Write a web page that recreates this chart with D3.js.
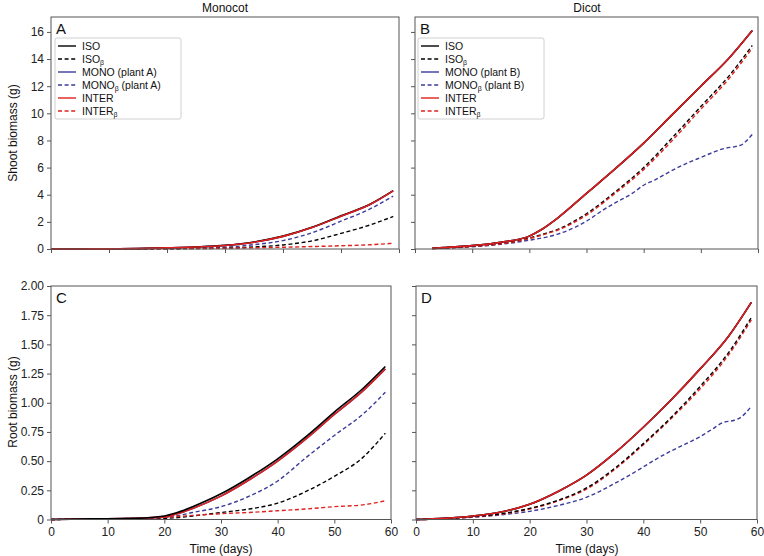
<!DOCTYPE html>
<html><head><meta charset="utf-8">
<script src="https://cdn.jsdelivr.net/npm/d3@7"></script>
<style>
body{margin:0;background:#fff;}
text{font-family:"Liberation Sans", Arial, sans-serif;}
</style></head>
<body><svg id="c" width="764" height="556"></svg>
<script>
// ---------- DATA ----------
const xTicks = [0,10,20,30,40,50,60];
const shootTicks = [0,2,4,6,8,10,12,14,16];
const rootTicks = [0,0.25,0.5,0.75,1,1.25,1.5,1.75,2];

// Panel A: shoot, monocot
const daysA = [0,5,10,15,20,25,30,35,40,45,50,55,59];
const isoA      = [0,0.005,0.01,0.03,0.08,0.15,0.27,0.52,0.95,1.6,2.45,3.3,4.3];
const isoBetaA  = [0,0,0.005,0.01,0.02,0.03,0.06,0.15,0.3,0.6,1.15,1.77,2.4];
const monoA     = [0,0.005,0.01,0.03,0.08,0.15,0.26,0.5,0.93,1.58,2.42,3.28,4.28];
const monoBetaA = [0,0,0.005,0.01,0.03,0.06,0.13,0.32,0.62,1.2,2.05,2.95,3.9];
const interA    = [0,0.005,0.01,0.03,0.08,0.15,0.26,0.5,0.93,1.58,2.42,3.28,4.28];
const interBetaA= [0,0,0.005,0.01,0.02,0.04,0.06,0.09,0.13,0.18,0.24,0.31,0.42];

// Panel B: shoot, dicot
const daysB = [3,5,10,15,20,22,25,30,35,40,45,50,55,59];
const isoB      = [0.05,0.1,0.25,0.5,0.95,1.4,2.3,4.1,5.9,7.8,9.9,12.0,14.1,16.1];
const isoBetaB  = [0.03,0.07,0.2,0.4,0.8,1.05,1.45,2.6,4.2,6.0,8.2,10.5,12.8,15.0];
const monoB     = [0.05,0.1,0.25,0.5,0.95,1.4,2.3,4.1,5.9,7.8,9.9,12.0,14.1,16.1];
const interB    = [0.05,0.1,0.25,0.5,0.95,1.4,2.3,4.1,5.9,7.8,9.9,12.0,14.1,16.1];
const interBetaB= [0.03,0.06,0.19,0.38,0.77,1.0,1.4,2.5,4.1,5.85,8.0,10.3,12.6,14.8];
const daysBFine = [3,5,10,15,20,25,28,30,33,35,38,40,42,45,48,50,52,54,56,57,59];
const monoBetaB = [0.03,0.06,0.17,0.35,0.65,1.1,1.6,2.05,2.9,3.4,4.1,4.7,5.1,5.8,6.4,6.75,7.1,7.4,7.55,7.65,8.45];

// Panel C: root, monocot
const daysC = [0,7,15,20,22,25,30,35,40,45,50,55,59];
const isoC      = [0,0.005,0.01,0.03,0.055,0.11,0.22,0.36,0.52,0.71,0.92,1.12,1.31];
const isoBetaC  = [0,0.003,0.005,0.01,0.015,0.03,0.06,0.09,0.14,0.24,0.37,0.53,0.74];
const monoC     = [0,0.005,0.01,0.02,0.045,0.095,0.2,0.34,0.5,0.69,0.9,1.1,1.29];
const monoBetaC = [0,0.003,0.005,0.02,0.03,0.06,0.11,0.2,0.33,0.53,0.72,0.9,1.09];
const interC    = [0,0.005,0.01,0.02,0.045,0.095,0.2,0.34,0.5,0.69,0.9,1.1,1.29];
const interBetaC= [0,0.005,0.01,0.02,0.025,0.035,0.05,0.06,0.075,0.09,0.11,0.125,0.16];

// Panel D: root, dicot
const daysD = [0,5,10,15,20,25,30,35,40,45,50,55,59];
const isoD      = [0,0.01,0.03,0.065,0.13,0.24,0.38,0.57,0.79,1.03,1.29,1.57,1.86];
const isoBetaD  = [0,0.008,0.025,0.05,0.095,0.165,0.27,0.44,0.65,0.88,1.14,1.43,1.73];
const monoD     = [0,0.01,0.03,0.065,0.13,0.24,0.38,0.57,0.79,1.03,1.29,1.57,1.86];
const interD    = [0,0.01,0.03,0.065,0.13,0.24,0.38,0.57,0.79,1.03,1.29,1.57,1.86];
const interBetaD= [0,0.007,0.022,0.045,0.09,0.16,0.26,0.43,0.64,0.87,1.12,1.41,1.71];
const daysDFine = [0,5,10,15,20,25,30,35,40,42,45,48,50,52,54,56,57,59];
const monoBetaD = [0,0.006,0.02,0.04,0.07,0.12,0.19,0.31,0.45,0.51,0.59,0.66,0.71,0.77,0.83,0.85,0.87,0.97];

// ---------- STYLE ----------
const BLACK="#000000", BLUE="#3b3b9c", RED="#e0201c";
const styles = {
  iso:{color:BLACK,dash:null}, isoB:{color:BLACK,dash:"4,2.6"},
  mono:{color:BLUE,dash:null}, monoB:{color:BLUE,dash:"4,2.6"},
  inter:{color:RED,dash:null}, interB:{color:RED,dash:"4,2.6"}
};

const panels = [
  {letter:"A", box:[51,399,17,249], yDomain:[0,17.1], yTicks:shootTicks, yLabels:true, xLabels:false,
   plant:"A", legendX:55,
   series:[["monoB",daysA,monoBetaA],["isoB",daysA,isoBetaA],["interB",daysA,interBetaA],["mono",daysA,monoA],["iso",daysA,isoA],["inter",daysA,interA]]},
  {letter:"B", box:[415,758,17,249], yDomain:[0,17.1], yTicks:shootTicks, yLabels:false, xLabels:false,
   plant:"B", legendX:418,
   series:[["monoB",daysBFine,monoBetaB],["isoB",daysB,isoBetaB],["interB",daysB,interBetaB],["mono",daysB,monoB],["iso",daysB,isoB],["inter",daysB,interB]]},
  {letter:"C", box:[51,391,286,519.5], yDomain:[0,2], yTicks:rootTicks, yLabels:true, xLabels:true,
   series:[["monoB",daysC,monoBetaC],["isoB",daysC,isoBetaC],["interB",daysC,interBetaC],["mono",daysC,monoC],["inter",daysC,interC],["iso",daysC,isoC]]},
  {letter:"D", box:[416,757,286,519.5], yDomain:[0,2], yTicks:rootTicks, yLabels:false, xLabels:true,
   series:[["monoB",daysDFine,monoBetaD],["interB",daysD,interBetaD],["isoB",daysD,isoBetaD],["mono",daysD,monoD],["iso",daysD,isoD],["inter",daysD,interD]]}
];

const svg = d3.select("#c");
const AX = "#555";

panels.forEach(p => {
  const [l,r,t,b] = p.box;
  const x = d3.scaleLinear().domain([0,60]).range([l,r]);
  const y = d3.scaleLinear().domain(p.yDomain).range([b,t]);
  const g = svg.append("g");

  p.series.forEach(([key,days,vals]) => {
    const st = styles[key];
    const line = d3.line().x((d,i)=>x(days[i])).y(d=>y(d)).curve(d3.curveMonotoneX);
    g.append("path").attr("d", line(vals)).attr("fill","none")
      .attr("stroke", st.color).attr("stroke-width", st.dash?1.4:1.6)
      .attr("stroke-dasharray", st.dash);
  });

  g.append("rect").attr("x",l).attr("y",t).attr("width",r-l).attr("height",b-t)
    .attr("fill","none").attr("stroke",AX).attr("stroke-width",1);

  const xa = d3.axisBottom(x).tickValues(xTicks).tickSize(4).tickPadding(4)
     .tickFormat(p.xLabels ? d3.format("d") : () => "");
  const gx = g.append("g").attr("transform",`translate(0,${b})`).call(xa);
  const ya = d3.axisLeft(y).tickValues(p.yTicks).tickSize(4).tickPadding(3)
     .tickFormat(p.yLabels ? (p.yDomain[1]>5 ? d3.format("d") : (d=> d===0?"0":d3.format(".2f")(d))) : () => "");
  const gy = g.append("g").attr("transform",`translate(${l},0)`).call(ya);
  [gx,gy].forEach(a=>{
    a.select(".domain").remove();
    a.selectAll(".tick line").attr("stroke",AX);
    a.selectAll(".tick text").attr("fill","#222").style("font-size","12px")
      .style("font-family","'Liberation Sans', Arial, sans-serif");
  });

  g.append("text").attr("x",l+5).attr("y",t+17).text(p.letter)
    .style("font-size","15px").attr("fill","#111");

  if (p.plant) {
    const lx = p.legendX, ly = 38;
    const entries = [
      ["iso","ISO",null,""],["isoB","ISO","β",""],
      ["mono","MONO",null," (plant "+p.plant+")"],["monoB","MONO","β"," (plant "+p.plant+")"],
      ["inter","INTER",null,""],["interB","INTER","β",""]
    ];
    const lg = g.append("g");
    lg.append("rect").attr("x",lx).attr("y",ly).attr("width",126).attr("height",81)
      .attr("rx",2).attr("fill","#fff").attr("stroke","#d0d0d0").attr("stroke-width",1);
    entries.forEach((e,i)=>{
      const cy = ly + 8 + i*13;
      const st = styles[e[0]];
      lg.append("line").attr("x1",lx+3).attr("x2",lx+21).attr("y1",cy).attr("y2",cy)
        .attr("stroke",st.color).attr("stroke-width",1.4).attr("stroke-dasharray",st.dash);
      const tx = lg.append("text").attr("x",lx+27).attr("y",cy+3.5).style("font-size","10.5px").attr("fill","#111");
      tx.append("tspan").text(e[1]);
      if (e[2]) tx.append("tspan").attr("dy",2.5).style("font-size","7px").text(e[2]);
      if (e[3]) tx.append("tspan").attr("dy",e[2]?-2.5:0).text(e[3]);
    });
  }
});

const T = (x,y,s,rot) => {
  const t = svg.append("text").attr("text-anchor","middle").style("font-size","12px").attr("fill","#111").text(s);
  if (rot) t.attr("transform",`translate(${x},${y}) rotate(-90)`); else t.attr("x",x).attr("y",y);
};
T(225,12,"Monocot");
T(587,12,"Dicot");
T(17,133,"Shoot biomass (g)",true);
T(17,402,"Root biomass (g)",true);
T(221,553,"Time (days)");
T(587,553,"Time (days)");
</script></body></html>
